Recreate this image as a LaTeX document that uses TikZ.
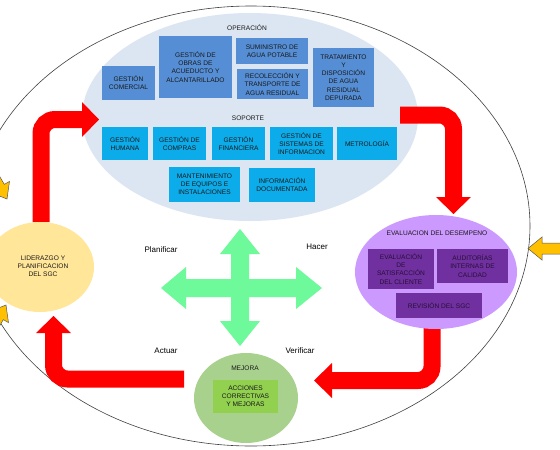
\documentclass[tikz,border=0pt]{standalone}
\usepackage{fontspec}
\setmainfont{Liberation Sans}
\usetikzlibrary{shapes.geometric}
\definecolor{lightblue}{RGB}{220,230,242}
\definecolor{opblue}{RGB}{85,142,213}
\definecolor{supblue}{RGB}{12,172,235}
\definecolor{lilac}{RGB}{204,153,255}
\definecolor{darkpurple}{RGB}{112,48,160}
\definecolor{purpletext}{RGB}{40,15,55}
\definecolor{sage}{RGB}{169,209,142}
\definecolor{leaf}{RGB}{146,208,80}
\definecolor{paleyellow}{RGB}{255,230,153}
\definecolor{mint}{RGB}{110,250,155}
\definecolor{amber}{RGB}{255,192,0}
\begin{document}
\begin{tikzpicture}[x=1pt,y=-1pt,
  txt/.style={font=\fontsize{6.6}{8.2}\selectfont, text=black!90, align=center, inner sep=0pt},
  lbl/.style={font=\fontsize{8}{9.5}\selectfont, text=black, inner sep=0pt},
  opbox/.style={txt, fill=opblue},
  supbox/.style={txt, fill=supblue},
  purbox/.style={txt, fill=darkpurple, text=purpletext},
  blob/.style={ellipse, inner sep=0pt},
  redshaft/.style={draw=red, line width=17pt, rounded corners=14pt},
  redhead/.style={fill=red},
  yarrow/.style={fill=amber, draw=black!65, line width=0.5pt}
]
\useasboundingbox (0,0) rectangle (560,450);
\clip (0,0) rectangle (560,450);
\fill[white] (0,0) rectangle (560,450);

% outer ellipse
\node[blob, draw=black!75, line width=0.6pt, minimum width=558pt, minimum height=440pt] (outer) at (251,226) {};

% process ellipse
\node[blob, fill=lightblue, minimum width=336pt, minimum height=208pt] (proc) at (250,117) {};
\node[txt] (oplbl) at (247,28) {OPERACIÓN};
\node[txt] (suplbl) at (248,118) {SOPORTE};

% operation boxes
\node[opbox, minimum width=53pt, minimum height=34pt] (com) at (128.5,83) {GESTIÓN\\COMERCIAL};
\node[opbox, minimum width=73pt, minimum height=62pt] (obras) at (195.5,67) {GESTIÓN DE\\OBRAS DE\\ACUEDUCTO Y\\ALCANTARILLADO};
\node[opbox, minimum width=72pt, minimum height=26pt] (sum) at (272,51) {SUMINISTRO DE\\AGUA POTABLE};
\node[opbox, minimum width=71pt, minimum height=30pt] (rec) at (272.5,84) {RECOLECCIÓN Y\\TRANSPORTE DE\\AGUA RESIDUAL};
\node[opbox, minimum width=61pt, minimum height=59pt] (trat) at (343.5,77.5) {TRATAMIENTO\\Y\\DISPOSICIÓN\\DE AGUA\\RESIDUAL\\DEPURADA};

% support boxes
\node[supbox, minimum width=46pt, minimum height=33pt] (hum) at (125,143.5) {GESTIÓN\\HUMANA};
\node[supbox, minimum width=53pt, minimum height=33pt] (comp) at (179.5,143.5) {GESTIÓN DE\\COMPRAS};
\node[supbox, minimum width=53pt, minimum height=33pt] (fin) at (238.5,143.5) {GESTIÓN\\FINANCIERA};
\node[supbox, minimum width=63pt, minimum height=33pt] (sis) at (301.5,143.5) {GESTIÓN DE\\SISTEMAS DE\\INFORMACION};
\node[supbox, minimum width=60pt, minimum height=33pt] (met) at (367,143.5) {METROLOGÍA};
\node[supbox, minimum width=71pt, minimum height=35pt] (mant) at (204.5,184.5) {MANTENIMIENTO\\DE EQUIPOS E\\INSTALACIONES};
\node[supbox, minimum width=66pt, minimum height=34pt] (info) at (282,185) {INFORMACIÓN\\DOCUMENTADA};

% red arrows
\draw[redshaft] (41,222) -- (41,119.5) -- (84,119.5);
\fill[redhead] (82,102) -- (99,119.5) -- (82,137) -- cycle;
\draw[redshaft] (400,115) -- (453.5,115) -- (453.5,199);
\fill[redhead] (436,197) -- (471,197) -- (453.5,214) -- cycle;
\draw[redshaft] (432,322) -- (432,380.5) -- (330,380.5);
\fill[redhead] (332,363) -- (332,398) -- (314,380.5) -- cycle;
\draw[redshaft] (184,379) -- (53.5,379) -- (53.5,331);
\fill[redhead] (36,333) -- (71,333) -- (53.5,316) -- cycle;

% evaluation ellipse
\node[blob, fill=lilac, minimum width=162pt, minimum height=114pt] (eval) at (436,272) {};
\node[txt] (evallbl) at (437,233) {EVALUACION DEL DESEMPENO};
\node[purbox, minimum width=66pt, minimum height=40pt] (sat) at (401,269) {EVALUACIÓN\\DE\\SATISFACCIÓN\\DEL CLIENTE};
\node[purbox, minimum width=71pt, minimum height=34pt] (aud) at (472.5,266) {AUDITORÍAS\\INTERNAS DE\\CALIDAD};
\node[purbox, minimum width=86pt, minimum height=25pt] (rev) at (439,305.5) {REVISIÓN DEL SGC};

% mejora
\node[blob, fill=sage, minimum width=104pt, minimum height=90pt] (mej) at (246,398) {};
\node[txt] (mejlbl) at (245,368) {MEJORA};
\node[txt, fill=leaf, minimum width=65pt, minimum height=33pt] (acc) at (245.5,396.5) {ACCIONES\\CORRECTIVAS\\Y MEJORAS};

% liderazgo
\node[blob, fill=paleyellow, minimum width=108pt, minimum height=90pt] (lid) at (40,267) {};
\node[txt] (lidlbl) at (43,266) {LIDERAZGO Y\\PLANIFICACION\\DEL SGC};

% green cross
\fill[mint] (240,229) -- (260,254) -- (249,254) -- (249,279) -- (296,279) -- (296,267) -- (322,288)
  -- (296,309) -- (296,297) -- (249,297) -- (249,321) -- (260,321) -- (240,346) -- (220,321)
  -- (231,321) -- (231,297) -- (186,297) -- (186,309) -- (161,288) -- (186,267) -- (186,279)
  -- (231,279) -- (231,254) -- (220,254) -- cycle;

% PDCA labels
\node[lbl] (plan) at (161,250) {Planificar};
\node[lbl] (hacer) at (317,247) {Hacer};
\node[lbl] (actuar) at (166,351) {Actuar};
\node[lbl] (verif) at (300,351) {Verificar};

% yellow arrows
\draw[yarrow] (528,248.5) -- (542,237) -- (542,243) -- (570,243) -- (570,254) -- (542,254) -- (542,260) -- cycle;
\draw[yarrow] (7,199) -- (9.5,181.4) -- (4.3,184.4) -- (-15.7,149.8) -- (-24.3,154.8) -- (-4.3,189.4) -- (-9.5,192.4) -- cycle;
\draw[yarrow] (6,305) -- (8.5,322.6) -- (3.3,319.6) -- (-16.7,354.2) -- (-25.3,349.2) -- (-5.3,314.6) -- (-10.5,311.6) -- cycle;
\end{tikzpicture}
\end{document}
